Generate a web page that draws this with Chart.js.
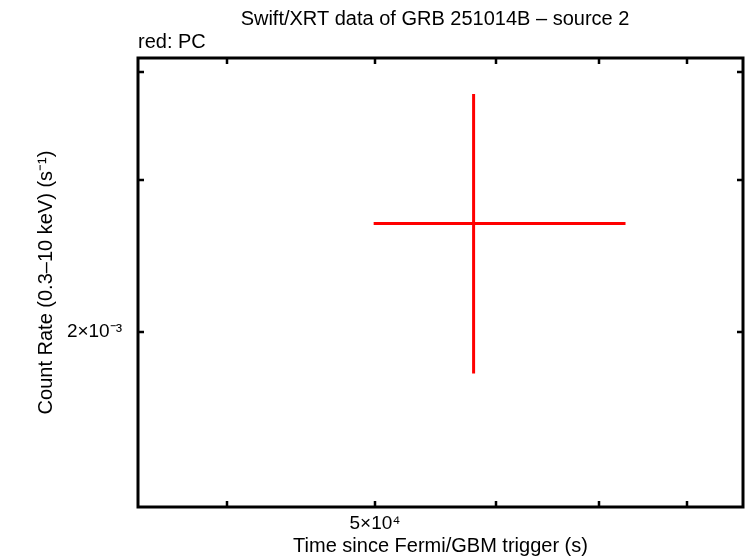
<!DOCTYPE html>
<html>
<head>
<meta charset="utf-8">
<script src="https://cdn.jsdelivr.net/npm/chart.js@4"></script>
<style>
  html, body { margin: 0; padding: 0; background: #fff; }
  #wrap { width: 746px; height: 558px; }
</style>
</head>
<body>
<div id="wrap"><canvas id="myChart"></canvas></div>
<script>
// data
const timeMid = [5.8e4];
const timeLo = [4.99e4];
const timeHi = [7.29e4];
const rateMid = [2.67e-3];
const rateLo = [1.79e-3];
const rateHi = [3.77e-3];

const xTicks = [4e4, 5e4, 6e4, 7e4, 8e4];
const xLabels = { 50000: '5×10⁴' };
const yTicks = [2e-3, 3e-3, 4e-3];
const yLabels = { 0.002: '2×10⁻³' };

const FONT = '"Liberation Sans", Arial, sans-serif';

// error bars + frame + inward ticks, all through the chart scales
const gnuplotLook = {
    id: 'gnuplotLook',
    afterDatasetsDraw(chart) {
        const { ctx, chartArea: a, scales: { x, y } } = chart;
        ctx.save();
        ctx.strokeStyle = '#ff0000';
        ctx.lineWidth = 3;
        timeMid.forEach((t, i) => {
            const px = x.getPixelForValue(t);
            const py = y.getPixelForValue(rateMid[i]);
            ctx.beginPath();
            ctx.moveTo(x.getPixelForValue(timeLo[i]), py);
            ctx.lineTo(x.getPixelForValue(timeHi[i]), py);
            ctx.moveTo(px, y.getPixelForValue(rateLo[i]));
            ctx.lineTo(px, y.getPixelForValue(rateHi[i]));
            ctx.stroke();
        });

        ctx.strokeStyle = '#000';
        ctx.lineWidth = 2.5;
        const tl = 6;
        ctx.beginPath();
        xTicks.forEach(v => {
            const p = Math.round(x.getPixelForValue(v));
            ctx.moveTo(p, a.bottom); ctx.lineTo(p, a.bottom - tl);
            ctx.moveTo(p, a.top); ctx.lineTo(p, a.top + tl);
        });
        yTicks.forEach(v => {
            const p = Math.round(y.getPixelForValue(v));
            ctx.moveTo(a.left, p); ctx.lineTo(a.left + tl, p);
            ctx.moveTo(a.right, p); ctx.lineTo(a.right - tl, p);
        });
        ctx.stroke();
        ctx.lineWidth = 3;
        ctx.strokeRect(a.left, a.top, a.right - a.left, a.bottom - a.top);

        // titles
        ctx.fillStyle = '#000';
        ctx.font = '20px ' + FONT;
        ctx.textBaseline = 'middle';
        ctx.textAlign = 'center';
        ctx.fillText('Swift/XRT data of GRB 251014B – source 2', 435, 19);
        ctx.textAlign = 'left';
        ctx.fillText('red: PC', a.left, 42);
        ctx.restore();
    }
};

const ctx = document.getElementById('myChart').getContext('2d');
new Chart(ctx, {
    type: 'scatter',
    data: {
        datasets: [{
            data: timeMid.map((t, i) => ({ x: t, y: rateMid[i] })),
            pointRadius: 0,
            borderColor: '#ff0000'
        }]
    },
    options: {
        responsive: true,
        maintainAspectRatio: false,
        animation: false,
        layout: { padding: { top: 58, right: 3, left: 0, bottom: 0 } },
        plugins: {
            legend: { display: false },
            tooltip: { enabled: false }
        },
        scales: {
            x: {
                type: 'logarithmic',
                min: 3.5e4,
                max: 8.7e4,
                grid: { display: false, drawTicks: false },
                border: { display: false },
                afterBuildTicks: s => { s.ticks = xTicks.map(v => ({ value: v })); },
                afterFit: s => { s.height = 51; },
                ticks: {
                    autoSkip: false,
                    maxRotation: 0,
                    padding: 5,
                    color: '#000',
                    font: { family: FONT, size: 19 },
                    callback: v => xLabels[v] || ''
                },
                title: {
                    display: true,
                    text: 'Time since Fermi/GBM trigger (s)',
                    color: '#000',
                    font: { family: FONT, size: 20 },
                    padding: { top: 0, bottom: 0 }
                }
            },
            y: {
                type: 'logarithmic',
                min: 1.254e-3,
                max: 4.15e-3,
                grid: { display: false, drawTicks: false },
                border: { display: false },
                afterBuildTicks: s => { s.ticks = yTicks.map(v => ({ value: v })); },
                afterFit: s => { s.width = 138; },
                ticks: {
                    autoSkip: false,
                    padding: 16,
                    color: '#000',
                    font: { family: FONT, size: 19 },
                    callback: v => yLabels[v] || ''
                },
                title: {
                    display: true,
                    text: 'Count Rate (0.3–10 keV) (s⁻¹)',
                    color: '#000',
                    font: { family: FONT, size: 20 },
                    padding: { top: 34, bottom: 0 }
                }
            }
        }
    },
    plugins: [gnuplotLook]
});
</script>
</body>
</html>
